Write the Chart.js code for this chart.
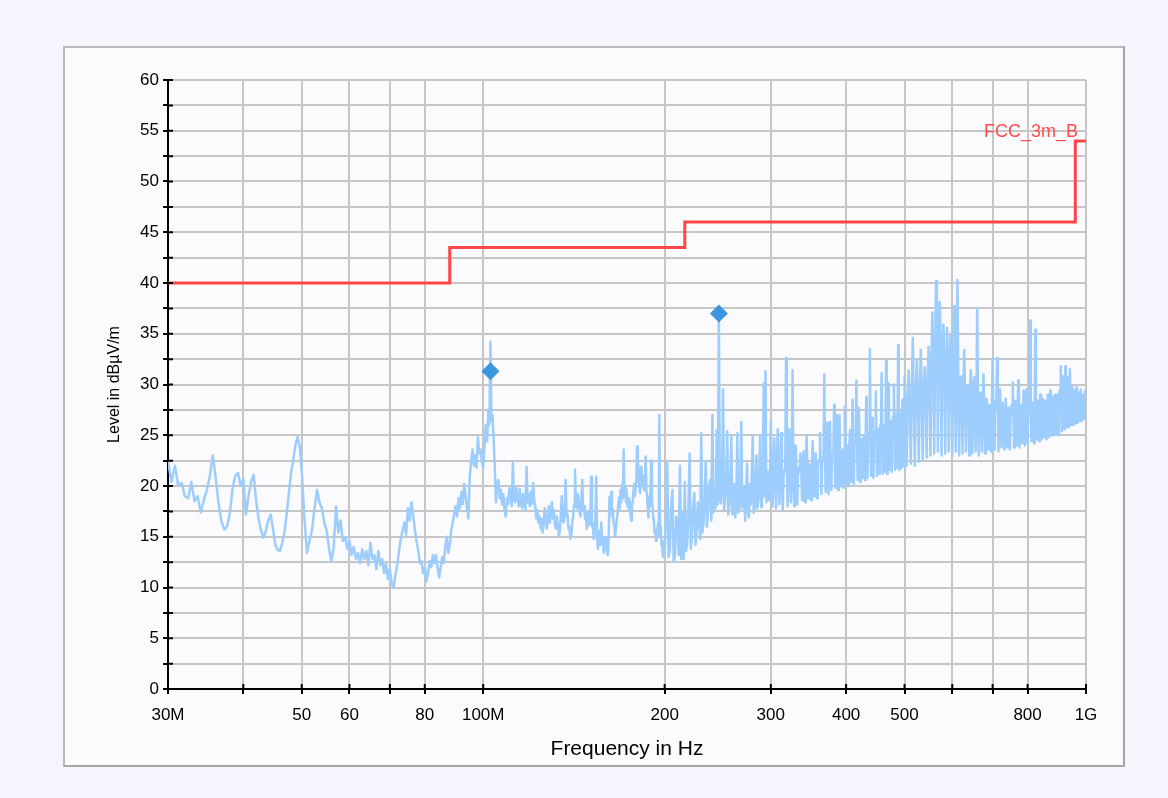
<!DOCTYPE html>
<html><head><meta charset="utf-8">
<script src="https://cdn.jsdelivr.net/npm/chart.js@4.4.1/dist/chart.umd.min.js"></script>
<style>
html,body{margin:0;padding:0;background:#f5f6fd;width:1168px;height:798px;overflow:hidden;}
#panel{position:absolute;left:63px;top:46px;width:1058px;height:717px;background:#fbfbfe;border:2px solid #b8b8b8;border-right-color:#a6a6a6;border-bottom-color:#a6a6a6;}
#wrap{position:absolute;left:0;top:0;width:1168px;height:798px;}
</style></head>
<body><div id="panel"></div><div id="wrap"><canvas id="c" width="1168" height="798"></canvas></div>
<script>
// ---- data (frequency in MHz, level in dBµV/m) ----
const xTickValues = [30,40,50,60,70,80,100,200,300,400,500,600,700,800,1000];
const xTickLabels = ['30M','','50','60','','80','100M','200','300','400','500','','','800','1G'];

const limitName = 'FCC_3m_B';
const limitFreqs = [30,88,88,216,216,960,960,1000];
const limitLevels = [40,40,43.5,43.5,46,46,54,54];

const markerFreqs = [102.8,246];
const markerLevels = [31.3,37.0];

const seg30to50 = [[30,22.5],[30.4,20.4],[30.8,22.0],[31.2,20.0],[31.6,20.3],[32,19.0],[32.4,18.8],[32.8,20.4],[33.2,18.5],[33.6,19.0],[34,17.4],[34.4,18.6],[34.8,19.6],[35.2,21.0],[35.6,23.0],[36,20.8],[36.4,18.2],[36.8,16.5],[37.2,15.7],[37.6,16.0],[38,17.4],[38.4,19.8],[38.8,21.0],[39.2,21.3],[39.6,20.0],[40,20.7],[40.4,17.2],[40.8,19.0],[41.2,20.4],[41.6,21.1],[42,18.6],[42.4,16.8],[42.8,15.6],[43.2,14.9],[43.6,15.6],[44,16.6],[44.4,17.2],[44.8,15.8],[45.2,14.2],[45.6,13.7],[46,13.6],[46.4,14.4],[46.8,15.4],[47.2,17.2],[47.6,19.3],[48,21.3],[48.4,22.6],[48.8,24.0],[49.2,24.8],[49.6,24.0]];

const seg50to100 = [[50,21.5],[50.5,17.0],[51,13.4],[51.5,14.6],[52,15.6],[52.5,17.8],[53,19.6],[53.5,18.4],[54,17.8],[54.5,16.4],[55,15.6],[55.5,13.8],[56,12.6],[56.5,14.0],[57,18.0],[57.5,15.4],[58,16.6],[58.5,14.6],[59,15.0],[59.5,13.8],[60,14.6],[60.5,13.2],[61,14.0],[61.5,12.8],[62,13.4],[62.5,12.4],[63,13.8],[63.5,12.8],[64,13.6],[64.5,12.2],[65,14.4],[65.5,12.8],[66,13.2],[66.5,11.8],[67,13.6],[67.5,12.2],[68,12.8],[68.5,11.4],[69,12.4],[69.5,10.8],[70,11.8],[70.5,10.4],[71,10.0],[71.5,11.2],[72,12.2],[72.5,13.6],[73,14.8],[73.5,15.6],[74,16.4],[74.5,15.2],[75,17.8],[75.5,16.6],[76,18.4],[76.5,17.2],[77,15.8],[77.5,14.6],[78,13.7],[78.5,12.4],[79,12.6],[79.5,11.4],[80,12.0],[80.5,10.6],[81,11.4],[81.5,12.6],[82,12.0],[82.5,13.2],[83,12.4],[83.5,13.2],[84,12.0],[84.5,11.0],[85,12.0],[85.5,13.0],[86,12.4],[86.5,14.0],[87,15.0],[87.5,13.4],[88,14.2],[88.5,15.6],[89,16.4],[89.5,17.2],[90,18.0],[90.5,17.0],[91,18.8],[91.5,17.8],[92,19.4],[92.5,18.2],[93,20.2],[93.5,19.0],[94,17.8],[94.5,16.8],[95,21.0],[95.5,22.4],[96,23.6],[96.5,22.0],[97,23.0],[97.5,21.8],[98,24.8],[98.5,23.2],[99,23.6],[99.5,22.4]];

const seg100to200 = [[100,21.8],[100.5,24.0],[101,26.0],[101.5,24.4],[102,27.5],[102.4,26.0],[102.8,34.2],[103.2,26.4],[103.6,27.0],[104,25.0],[104.5,22.0],[105,18.4],[105.5,20.2],[106,20.6],[106.5,18.8],[107,19.6],[107.5,18.2],[108,19.2],[108.5,17.6],[109,17.0],[109.5,18.8],[110,18.2],[110.5,19.8],[111,19.4],[111.5,18.0],[112,22.3],[112.5,18.6],[113,18.4],[113.5,19.8],[114,19.0],[114.5,18.0],[115,19.7],[115.5,18.4],[116,17.8],[116.5,19.2],[117,18.6],[117.5,17.6],[118,21.9],[118.5,18.4],[119,19.2],[119.5,18.0],[120,19.4],[120.5,18.2],[121,20.3],[121.5,18.6],[122,18.0],[122.5,16.8],[123,17.6],[123.5,16.4],[124,17.0],[124.5,15.8],[125,16.8],[125.5,15.4],[126,16.2],[126.5,17.8],[127,17.0],[127.5,15.8],[128,16.8],[128.5,18.0],[129,16.4],[129.5,17.6],[130,18.4],[130.5,16.8],[131,17.6],[131.5,16.2],[132,15.8],[132.5,17.0],[133,16.2],[133.5,15.0],[134,15.6],[134.5,17.0],[135,19.0],[135.5,16.6],[136,16.4],[136.5,17.6],[137,20.6],[137.5,17.0],[138,17.2],[138.5,15.8],[139,16.0],[139.5,14.8],[140,15.1],[140.5,16.4],[141,17.0],[141.5,18.2],[142,21.6],[142.5,18.0],[143,17.8],[143.5,19.2],[144,18.6],[144.5,17.4],[145,17.0],[145.5,18.4],[146,20.6],[146.5,17.6],[147,18.0],[147.5,16.8],[148,17.4],[148.5,15.8],[149,16.1],[149.5,17.4],[150,17.2],[150.5,16.2],[151,20.9],[151.5,16.0],[152,16.4],[152.5,14.8],[153,15.4],[153.5,16.6],[154,20.9],[154.5,15.0],[155,13.8],[155.5,15.2],[156,15.6],[156.5,14.2],[157,16.4],[157.5,14.8],[158,14.4],[158.5,13.4],[159,13.8],[159.5,15.0],[160,14.8],[160.5,13.6],[161,13.2],[161.5,15.0],[162,18.9],[162.5,17.0],[163,19.4],[163.5,17.8],[164,17.7],[164.5,16.4],[165,16.2],[165.5,15.0],[166,15.0],[166.5,16.6],[167,17.2],[167.5,18.2],[168,18.9],[168.5,17.8],[169,19.6],[169.5,18.4],[170,20.2],[170.5,18.8],[171,23.6],[171.5,19.0],[172,19.8],[172.5,18.4],[173,19.6],[173.5,18.0],[174,18.8],[174.5,17.6],[175,18.6],[175.5,17.2],[176,16.6],[176.5,18.0],[177,18.4],[177.5,19.4],[178,20.2],[178.5,19.0],[179,19.6],[179.5,20.6],[180,23.9],[180.5,20.4],[181,22.0],[181.5,20.0],[182,19.3],[182.5,20.6],[183,21.9],[183.5,20.2],[184,21.0],[184.5,19.8],[185,19.6],[185.5,20.8],[186,22.9],[186.5,19.6],[187,19.0],[187.5,17.8],[188,16.9],[188.5,18.4],[189,18.0],[189.5,19.6],[190,22.5],[190.5,18.6],[191,18.0],[191.5,16.8],[192,16.3],[192.5,15.4],[193,15.7],[193.5,14.6],[194,14.8],[194.5,15.8],[195,16.3],[195.5,15.2],[196,27.0],[196.5,15.0],[197,16.0],[197.5,14.2],[198,14.4],[198.5,13.2],[199,13.0],[199.5,14.6]];

const seg200to300 = [[200,13.4],[201,17.2],[202,22.3],[203,13.0],[204,13.6],[205,17.8],[206,19.6],[207,12.6],[208,13.0],[209,17.0],[210,16.6],[211,13.2],[212,22.0],[213,12.8],[214,17.4],[215,12.8],[216,20.4],[217,13.6],[218,14.3],[219,17.8],[220,23.2],[221,13.8],[222,15.0],[223,18.0],[224,19.3],[225,14.2],[226,15.6],[227,18.4],[228,16.8],[229,14.8],[230,25.2],[231,15.4],[232,16.3],[233,19.0],[234,22.4],[235,16.0],[236,17.6],[237,20.0],[238,20.6],[239,16.6],[240,27.0],[241,17.4],[242,19.2],[243,17.8],[244,25.5],[245,18.2],[246,37.0],[247,18.6],[248,18.3],[249,20.4],[250,29.5],[251,17.6],[252,18.6],[253,20.6],[254,25.4],[255,17.2],[256,17.9],[257,20.8],[258,24.9],[259,17.2],[260,17.4],[261,20.2],[262,16.9],[263,18.8],[264,25.2],[265,17.4],[266,17.6],[267,20.6],[268,26.3],[269,17.8],[270,18.4],[271,20.0],[272,16.6],[273,19.4],[274,22.2],[275,17.2],[276,16.9],[277,20.2],[278,18.2],[279,21.0],[280,25.0],[281,17.4],[282,17.6],[283,20.8],[284,23.0],[285,17.8],[286,18.8],[287,21.2],[288,24.9],[289,18.0],[290,17.9],[291,21.6],[292,30.1],[293,19.0],[294,31.3],[295,18.4],[296,19.4],[297,21.4],[298,18.6],[299,20.6]];

const seg300to500 = [[300,26.5],[301,21.0],[302,18.0],[303,21.4],[304,24.7],[305,21.0],[306,17.8],[307,21.6],[308,25.6],[309,21.2],[310,18.2],[311,21.4],[312,25.2],[313,21.0],[314,17.6],[315,21.2],[316,21.5],[317,21.8],[318,32.6],[319,21.4],[320,18.0],[321,21.6],[322,25.6],[323,21.2],[324,18.4],[325,21.6],[326,31.4],[327,21.8],[328,18.0],[329,21.4],[330,24.0],[331,21.6],[332,18.2],[333,21.8],[334,21.8],[335,21.4],[336,23.2],[337,21.8],[338,18.6],[339,22.0],[340,23.4],[341,21.6],[342,18.4],[343,22.0],[344,25.0],[345,21.8],[346,18.8],[347,22.2],[348,22.0],[349,21.8],[350,18.6],[351,22.2],[352,24.4],[353,22.0],[354,19.0],[355,22.4],[356,23.2],[357,22.0],[358,18.8],[359,22.4],[360,22.4],[361,22.6],[362,25.2],[363,22.2],[364,19.2],[365,22.6],[366,22.6],[367,22.8],[368,31.0],[369,22.6],[370,19.4],[371,22.8],[372,26.2],[373,22.6],[374,19.2],[375,23.0],[376,26.3],[377,22.8],[378,19.6],[379,23.0],[380,23.0],[381,23.2],[382,28.0],[383,23.0],[384,19.8],[385,23.2],[386,27.0],[387,23.0],[388,19.6],[389,23.4],[390,27.0],[391,23.2],[392,20.0],[393,23.4],[394,23.4],[395,23.6],[396,19.8],[397,23.6],[398,27.8],[399,23.4],[400,20.2],[401,23.8],[402,24.0],[403,23.6],[404,20.0],[405,24.0],[406,25.5],[407,23.8],[408,20.4],[409,24.2],[410,28.5],[411,24.0],[412,20.2],[413,24.2],[414,24.2],[415,24.4],[416,30.4],[417,24.2],[418,20.6],[419,24.4],[420,27.7],[421,24.2],[422,20.4],[423,24.6],[424,24.6],[425,24.4],[426,20.8],[427,24.6],[428,25.0],[429,24.6],[430,20.6],[431,24.8],[432,28.8],[433,24.6],[434,20.8],[435,25.0],[436,25.2],[437,24.8],[438,33.5],[439,25.0],[440,21.0],[441,25.2],[442,26.7],[443,25.0],[444,20.8],[445,25.2],[446,25.4],[447,25.4],[448,29.3],[449,25.2],[450,21.0],[451,25.4],[452,25.6],[453,25.4],[454,21.2],[455,25.6],[456,26.0],[457,25.6],[458,31.1],[459,25.6],[460,21.2],[461,25.8],[462,26.0],[463,25.8],[464,21.4],[465,26.0],[466,32.4],[467,25.8],[468,21.2],[469,26.0],[470,30.1],[471,26.0],[472,21.6],[473,26.2],[474,26.4],[475,26.2],[476,21.4],[477,26.4],[478,26.8],[479,26.4],[480,30.0],[481,26.4],[482,21.6],[483,26.6],[484,27.0],[485,26.6],[486,21.8],[487,26.8],[488,33.9],[489,26.8],[490,21.6],[491,27.0],[492,27.2],[493,27.0],[494,21.8],[495,27.2],[496,28.5],[497,27.2],[498,22.0],[499,27.4],[500,30.8]];

const seg500to1000 = [[502,27.6],[504,22.0],[506,28.4],[508,31.4],[510,27.8],[512,22.2],[514,28.8],[516,34.6],[518,28.2],[520,22.0],[522,29.0],[524,32.5],[526,28.6],[528,22.4],[530,29.4],[532,33.4],[534,29.0],[536,22.6],[538,29.6],[540,31.7],[542,29.8],[544,22.8],[546,30.2],[548,33.7],[550,31.0],[552,23.0],[554,32.4],[556,37.1],[558,33.0],[560,23.2],[562,34.0],[564,40.2],[566,34.4],[568,23.4],[570,34.6],[572,38.1],[574,34.0],[576,23.0],[578,33.6],[580,35.9],[582,33.2],[584,23.2],[586,33.0],[588,35.6],[590,32.6],[592,23.4],[594,32.4],[596,34.8],[598,31.6],[600,23.0],[602,31.4],[604,37.7],[606,31.0],[608,23.4],[610,31.2],[612,40.3],[614,30.6],[616,23.0],[618,30.2],[620,30.8],[622,29.8],[624,23.2],[626,30.0],[628,33.4],[630,29.6],[632,23.4],[634,29.4],[636,29.9],[638,29.2],[640,23.0],[642,29.4],[644,31.4],[646,29.0],[648,23.2],[650,29.0],[652,30.7],[654,28.8],[656,23.4],[658,29.0],[660,37.5],[662,28.6],[664,23.0],[666,28.4],[668,29.2],[670,28.2],[672,23.4],[674,28.4],[676,31.0],[678,28.0],[680,23.2],[682,27.8],[684,28.6],[686,27.6],[688,23.6],[690,27.8],[692,28.0],[694,27.4],[696,23.4],[698,27.6],[700,32.6],[702,27.6],[704,23.6],[706,27.4],[708,28.4],[710,27.8],[712,32.6],[714,27.2],[716,23.4],[718,27.6],[720,29.5],[722,27.2],[724,23.8],[726,27.4],[728,28.2],[730,27.0],[732,23.6],[734,27.2],[736,28.6],[738,27.0],[740,23.8],[742,27.2],[744,27.7],[746,26.8],[748,23.6],[750,27.0],[752,28.0],[754,27.2],[756,30.2],[758,26.8],[760,23.8],[762,27.0],[764,28.4],[766,27.2],[768,24.0],[770,27.4],[772,30.4],[774,27.0],[776,23.8],[778,27.2],[780,28.0],[782,27.4],[784,24.2],[786,27.2],[788,29.4],[790,27.0],[792,24.0],[794,27.4],[796,29.5],[798,27.2],[800,24.2],[802,27.4],[804,28.0],[806,27.6],[808,36.3],[810,27.4],[812,24.4],[814,27.6],[816,28.2],[818,27.2],[820,24.2],[822,27.8],[824,35.4],[826,27.6],[828,24.6],[830,27.6],[832,28.4],[834,27.4],[836,24.4],[838,27.8],[840,29.0],[842,27.6],[844,24.6],[846,27.8],[848,28.6],[850,27.6],[852,24.8],[854,28.0],[856,28.4],[858,27.8],[860,24.6],[862,28.0],[864,29.0],[866,27.8],[868,24.8],[870,28.2],[872,29.4],[874,28.0],[876,25.0],[878,28.2],[880,28.8],[882,28.0],[884,25.0],[886,28.4],[888,29.0],[890,28.2],[892,25.2],[894,28.4],[896,29.0],[898,28.4],[900,25.0],[902,28.6],[904,29.4],[906,28.8],[908,31.8],[910,28.6],[912,25.4],[914,28.8],[916,30.8],[918,28.8],[920,25.6],[922,29.0],[924,31.8],[926,28.8],[928,25.8],[930,29.0],[932,30.7],[934,28.8],[936,25.8],[938,29.2],[940,31.5],[942,28.8],[944,26.0],[946,29.0],[948,29.7],[950,28.8],[952,26.0],[954,29.0],[956,29.4],[958,28.8],[960,26.2],[962,29.0],[964,29.7],[966,28.8],[968,26.2],[970,29.0],[972,29.2],[974,28.8],[976,26.4],[978,29.0],[980,29.5],[982,28.8],[984,26.4],[986,29.0],[988,29.0],[990,28.8],[992,26.6],[994,29.0],[996,29.4],[998,28.6],[1000,27.0]];

// ---- build ----
const FONT = "'Liberation Sans', Arial, sans-serif";
const traceData = [...seg30to50, ...seg50to100, ...seg100to200, ...seg200to300, ...seg300to500, ...seg500to1000].map(([x,y]) => ({x, y}));
const limitData = limitFreqs.map((f,i) => ({x:f, y:limitLevels[i]}));
const markerData = markerFreqs.map((f,i) => ({x:f, y:markerLevels[i]}));

const crossTicks = {
  id: 'crossTicks',
  afterDraw(chart) {
    const {ctx, chartArea, scales} = chart;
    ctx.save();
    ctx.strokeStyle = '#000';
    ctx.lineWidth = 2;
    ctx.beginPath();
    scales.y.ticks.forEach(t => {
      const y = scales.y.getPixelForValue(t.value);
      ctx.moveTo(chartArea.left, y); ctx.lineTo(chartArea.left + 5, y);
    });
    scales.x.ticks.forEach(t => {
      const x = scales.x.getPixelForValue(t.value);
      ctx.moveTo(x, chartArea.bottom); ctx.lineTo(x, chartArea.bottom - 5);
    });
    ctx.stroke();
    ctx.restore();
  }
};

const limitLabel = {
  id: 'limitLabel',
  afterDatasetsDraw(chart) {
    const {ctx, scales} = chart;
    const n = limitFreqs.length - 1;
    const x = scales.x.getPixelForValue(limitFreqs[n]) - 8;
    const y = scales.y.getPixelForValue(limitLevels[n]) - 4;
    ctx.save();
    ctx.fillStyle = '#ff4d4d';
    ctx.font = '18px ' + FONT;
    ctx.textAlign = 'right';
    ctx.textBaseline = 'alphabetic';
    ctx.fillText(limitName, x, y);
    ctx.restore();
  }
};

new Chart(document.getElementById('c'), {
  type: 'line',
  data: {
    datasets: [
      { label: 'markers', data: markerData, order: 0, showLine: false, pointStyle: 'rectRot', pointRadius: 9, pointBackgroundColor: '#3b98de', pointBorderColor: '#3b98de', borderWidth: 0 },
      { label: limitName, data: limitData, order: 1, borderColor: '#ff4646', borderWidth: 3, pointRadius: 0, tension: 0, borderJoinStyle: 'miter', fill: false },
      { label: 'trace', data: traceData, order: 2, borderColor: '#9ccdfd', borderWidth: 2.5, pointRadius: 0, tension: 0, fill: false, borderJoinStyle: 'round' }
    ]
  },
  options: {
    responsive: false,
    devicePixelRatio: 1,
    animation: false,
    events: [],
    layout: { padding: { left: 101, right: 82, top: 80, bottom: 32 } },
    plugins: { legend: { display: false }, tooltip: { enabled: false } },
    scales: {
      x: {
        type: 'logarithmic', min: 30, max: 1000,
        afterBuildTicks: s => { s.ticks = xTickValues.map(v => ({ value: v })); },
        afterFit: s => { s.height = 77; },
        ticks: { autoSkip: false, maxRotation: 0, color: '#000', font: { family: FONT, size: 17 }, padding: 11,
          callback: (v) => { const i = xTickValues.indexOf(v); return i >= 0 ? xTickLabels[i] : ''; } },
        grid: { color: '#c6c6c6', lineWidth: 2, tickColor: '#000', tickLength: 5, tickWidth: 2 },
        border: { color: '#000', width: 2 },
        title: { display: true, text: 'Frequency in Hz', color: '#000', font: { family: FONT, size: 21 }, padding: { top: 4, bottom: 4 } }
      },
      y: {
        min: 0, max: 60,
        afterFit: s => { s.width = 67; },
        ticks: { stepSize: 2.5, autoSkip: false, color: '#000', font: { family: FONT, size: 17 }, padding: 4,
          callback: v => (v % 5 === 0 ? String(v) : '') },
        grid: { color: '#c6c6c6', lineWidth: 2, tickColor: '#000', tickLength: 5, tickWidth: 2 },
        border: { color: '#000', width: 2 },
        title: { display: true, text: 'Level in dBµV/m', color: '#000', font: { family: FONT, size: 16 }, padding: { top: 4, bottom: 4 } }
      }
    }
  },
  plugins: [crossTicks, limitLabel]
});
</script></body></html>
